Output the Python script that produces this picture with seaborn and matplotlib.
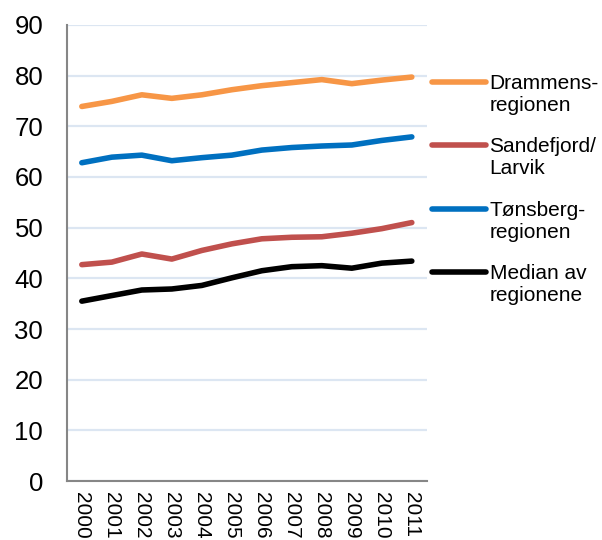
import numpy as np
import pandas as pd
import seaborn as sns
import matplotlib.pyplot as plt
from matplotlib.legend_handler import HandlerLine2D
from matplotlib.ticker import MultipleLocator

years = list(range(2000, 2012))
drammen = [73.9, 74.9, 76.2, 75.5, 76.2, 77.2, 78.0, 78.6, 79.2, 78.4, 79.1, 79.7]
sandefjord = [42.7, 43.2, 44.8, 43.8, 45.5, 46.8, 47.8, 48.1, 48.2, 48.9, 49.8, 51.0]
tonsberg = [62.8, 63.9, 64.3, 63.2, 63.8, 64.3, 65.3, 65.8, 66.1, 66.3, 67.2, 67.9]
median = [35.5, 36.6, 37.7, 37.9, 38.6, 40.1, 41.5, 42.3, 42.5, 42.0, 43.0, 43.4]

names = ["Drammens-\nregionen", "Sandefjord/\nLarvik", "Tønsberg-\nregionen", "Median av\nregionene"]
colors = ["#f79646", "#c0504d", "#0070c0", "#000000"]

df = pd.DataFrame({"year": years * 4,
                   "value": drammen + sandefjord + tonsberg + median,
                   "serie": [n for n in names for _ in years]})

sns.set_style("white")
plt.rcParams['font.family'] = ['Liberation Sans', 'DejaVu Sans']
plt.rcParams['text.color'] = 'black'

fig = plt.figure(figsize=(6.02, 5.40), dpi=100)
ax = fig.add_axes([0.111, 0.109, 0.598, 0.845])

sns.lineplot(data=df, x="year", y="value", hue="serie", palette=colors,
             linewidth=4, ax=ax, legend=False, zorder=3)

ax.set_xlim(1999.5, 2011.5)
ax.set_ylim(0, 90)
ax.yaxis.set_major_locator(MultipleLocator(10))
ax.set_xticks(years)
ax.set_xticklabels([str(y) for y in years], rotation=-90)
ax.set_xticks(np.arange(1999.5, 2012, 1), minor=True)
ax.tick_params(axis="x", which="major", length=0, pad=8, labelsize=15, labelcolor="black")
ax.tick_params(axis="x", which="minor", length=6, width=1.2, color="#868686", direction="out")
ax.tick_params(axis="y", length=7, width=1.2, color="#868686", direction="out",
               labelsize=18.5, pad=10, labelcolor="black")
ax.set_xlabel("")
ax.set_ylabel("")

ax.grid(axis="y", color="#dce6f2", linewidth=1.6, zorder=0)
for s in ["top", "right"]:
    ax.spines[s].set_visible(False)
for s in ["left", "bottom"]:
    ax.spines[s].set_color("#868686")
    ax.spines[s].set_linewidth(1.5)


class TopLine(HandlerLine2D):
    def create_artists(self, legend, orig_handle, xdescent, ydescent, width, height, fontsize, trans):
        arts = super().create_artists(legend, orig_handle, xdescent, ydescent, width, height, fontsize, trans)
        for a in arts:
            a.set_ydata(np.asarray(a.get_ydata()) + 0.6 * fontsize)
        return arts


handles = [plt.Line2D([], [], color=c, linewidth=4) for c in colors]
leg = fig.legend(handles, names, loc="upper left", bbox_to_anchor=(0.718, 0.863),
                 frameon=False, fontsize=15, handlelength=2.6, handletextpad=0.15,
                 labelspacing=1.07, borderaxespad=0, borderpad=0, labelcolor="black",
                 handler_map={plt.Line2D: TopLine()})

fig.savefig("out.png", dpi=100)
